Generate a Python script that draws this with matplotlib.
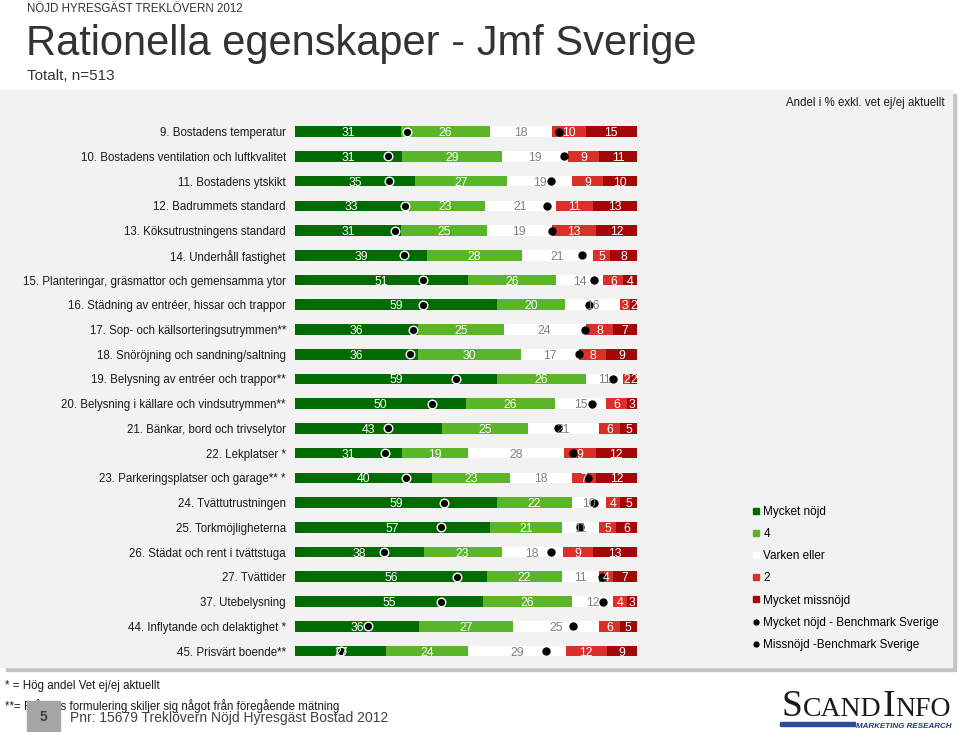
import numpy as np
import matplotlib
matplotlib.use("Agg")
import matplotlib.pyplot as plt
from matplotlib.patches import Rectangle
from matplotlib.lines import Line2D

plt.rcParams['font.family'] = ['Liberation Sans', 'DejaVu Sans']

# --- data ---------------------------------------------------------------
labels = [
    "9. Bostadens temperatur",
    "10. Bostadens ventilation och luftkvalitet",
    "11. Bostadens ytskikt",
    "12. Badrummets standard",
    "13. Köksutrustningens standard",
    "14. Underhåll fastighet",
    "15. Planteringar, gräsmattor och gemensamma ytor",
    "16. Städning av entréer, hissar och trappor",
    "17. Sop- och källsorteringsutrymmen**",
    "18. Snöröjning och sandning/saltning",
    "19. Belysning av entréer och trappor**",
    "20. Belysning i källare och vindsutrymmen**",
    "21. Bänkar, bord och trivselytor",
    "22. Lekplatser *",
    "23. Parkeringsplatser och garage** *",
    "24. Tvättutrustningen",
    "25. Torkmöjligheterna",
    "26. Städat och rent i tvättstuga",
    "27. Tvättider",
    "37. Utebelysning",
    "44. Inflytande och delaktighet *",
    "45. Prisvärt boende**",
]
mycket_nojd = [31, 31, 35, 33, 31, 39, 51, 59, 36, 36, 59, 50, 43, 31, 40, 59, 57, 38, 56, 55, 36, 27]
fyra        = [26, 29, 27, 23, 25, 28, 26, 20, 25, 30, 26, 26, 25, 19, 23, 22, 21, 23, 22, 26, 27, 24]
varken      = [18, 19, 19, 21, 19, 21, 14, 16, 24, 17, 11, 15, 21, 28, 18, 10, 11, 18, 11, 12, 25, 29]
tva         = [10,  9,  9, 11, 13,  5,  6,  3,  8,  8,  2,  6,  6,  9,  7,  4,  5,  9,  4,  4,  6, 12]
mycket_miss = [15, 11, 10, 13, 12,  8,  4,  2,  7,  9,  2,  3,  5, 12, 12,  5,  6, 13,  7,  3,  5,  9]

# benchmark Sverige
bm_nojd = [32.7, 27.1, 27.5, 32.1, 29.1, 32.0, 37.5, 37.5, 34.4, 33.6, 47.0,
           40.0, 27.1, 26.3, 32.4, 43.5, 42.6, 25.9, 47.4, 42.6, 21.3, 13.5]
bm_missnojd = [22.9, 21.2, 25.1, 26.2, 24.8, 16.1, 12.6, 13.9, 15.1, 17.1, 7.1,
               13.3, 23.0, 18.6, 14.4, 12.5, 16.7, 25.2, 10.2, 10.0, 18.7, 26.6]

series = [mycket_nojd, fyra, varken, tva, mycket_miss]
series_names = ["Mycket nöjd", "4", "Varken eller", "2", "Mycket missnöjd"]
colors = ["#006b00", "#5bb528", "#ffffff", "#d9312a", "#a30808"]
text_colors = ["white", "white", "#808080", "white", "white"]

# --- figure -------------------------------------------------------------
W, H = 960, 732
fig = plt.figure(figsize=(W / 100, H / 100), dpi=100)
fig.patch.set_facecolor("white")


def fx(px):
    return px / W


def fy(py):
    return 1 - py / H


# grey panel with shadow
fig.add_artist(Rectangle((fx(6), fy(671)), fx(950), 577 / H, color="#c4c4c4", zorder=-2))
fig.add_artist(Rectangle((fx(0), fy(667)), fx(952), 577 / H, color="#f2f2f2", zorder=-1))

n = len(labels)
row_h = 24.73
top = 131.7 - row_h / 2
bottom = 651.0 + row_h / 2
ax = fig.add_axes([fx(295), fy(bottom), fx(342), (bottom - top) / H])
ax.set_facecolor("none")

y = np.arange(n)
data = np.array(series, dtype=float)
totals = data.sum(axis=0)
widths = data / totals * 100  # show each row as 100 %
lefts = np.vstack([np.zeros(n), np.cumsum(widths, axis=0)[:-1]])

for k in range(len(series)):
    ax.barh(y, widths[k], left=lefts[k], height=0.43, color=colors[k], linewidth=0)
    for i in range(n):
        ax.text(lefts[k][i] + widths[k][i] / 2, y[i], str(series[k][i]),
                ha="center", va="center_baseline", fontsize=8.8, color=text_colors[k])

ax.plot(bm_nojd, y, linestyle="none", marker="o", markersize=6.2,
        markerfacecolor="black", markeredgecolor="white", markeredgewidth=1.0)
ax.plot(100 - np.array(bm_missnojd), y, linestyle="none", marker="o", markersize=5,
        markerfacecolor="black", markeredgecolor="black")

ax.set_xlim(0, 100)
ax.set_ylim(n - 0.5, -0.5)
ax.set_yticks(y, labels, fontsize=8.3, color="#1a1a1a")
ax.set_xticks([])
ax.tick_params(axis="y", length=0, pad=6.5)
for s in ax.spines.values():
    s.set_visible(False)

# legend
handles = []
for name, c in zip(series_names, colors):
    handles.append(Line2D([], [], linestyle="none", marker="s", markersize=5,
                          markerfacecolor=c, markeredgecolor=c, label=name))
handles.append(Line2D([], [], linestyle="none", marker="o", markersize=3.5,
                      color="black", label="Mycket nöjd - Benchmark Sverige"))
handles.append(Line2D([], [], linestyle="none", marker="o", markersize=3.5,
                      color="black", label="Missnöjd -Benchmark Sverige"))
fig.legend(handles=handles, loc="upper left", bbox_to_anchor=(fx(752), fy(506)),
           frameon=False, fontsize=8.5, handlelength=0.6, handletextpad=0.35,
           labelspacing=0.86, borderpad=0, borderaxespad=0)

# header
fig.text(fx(27), fy(12), "NÖJD HYRESGÄST TREKLÖVERN 2012", fontsize=8.3,
         color="#333333", va="baseline")
fig.text(fx(26), fy(55), "Rationella egenskaper - Jmf Sverige", fontsize=30,
         color="#333333", va="baseline")
fig.text(fx(27), fy(80), "Totalt, n=513", fontsize=11, color="#333333", va="baseline")
fig.text(fx(945), fy(106), "Andel i % exkl. vet ej/ej aktuellt", fontsize=8.3,
         color="#1a1a1a", ha="right", va="baseline")

# footer
fig.text(fx(5), fy(689), "* = Hög andel Vet ej/ej aktuellt", fontsize=8.3,
         color="#1a1a1a", va="baseline")
fig.text(fx(5), fy(710), "**= Frågans formulering skiljer sig något från föregående mätning",
         fontsize=8.3, color="#1a1a1a", va="baseline")
fig.add_artist(Rectangle((fx(27), fy(732)), fx(33), 31 / H, color="#a6a6a6", zorder=5))
fig.text(fx(43.5), fy(717), "5", fontsize=10, fontweight="bold", color="#404040",
         ha="center", va="center", zorder=6)
fig.text(fx(70), fy(722), "Pnr: 15679 Treklövern Nöjd Hyresgäst Bostad 2012",
         fontsize=10, color="#404040", va="baseline", zorder=6)

# logo
serif = ["Liberation Serif", "DejaVu Serif"]
t1 = fig.text(fx(782), fy(716), "S", fontsize=27, family=serif, color="#1a1a1a", va="baseline")
t2 = fig.text(0, 0, "CAND", fontsize=20, family=serif, color="#1a1a1a")
fig.canvas.draw()
r = fig.canvas.get_renderer()


def place_after(prev, txt, gap=0.5):
    bb = prev.get_window_extent(r)
    txt.set_position((bb.x1 / fig.bbox.width + gap / W, fy(716)))
    txt.set_va("baseline")


place_after(t1, t2)
t3 = fig.text(0, 0, "I", fontsize=27, family=serif, color="#1a1a1a")
fig.canvas.draw()
place_after(t2, t3)
t4 = fig.text(0, 0, "NFO", fontsize=20, family=serif, color="#1a1a1a")
fig.canvas.draw()
place_after(t3, t4)
fig.add_artist(Rectangle((fx(780), fy(726)), fx(75), 4 / H, color="#2b4b9b", zorder=2))
fig.text(fx(951), fy(728), "MARKETING RESEARCH", fontsize=5.8, style="italic",
         fontweight="bold", color="#1f3a80", ha="right", va="baseline")

fig.savefig("out.png", dpi=100)
